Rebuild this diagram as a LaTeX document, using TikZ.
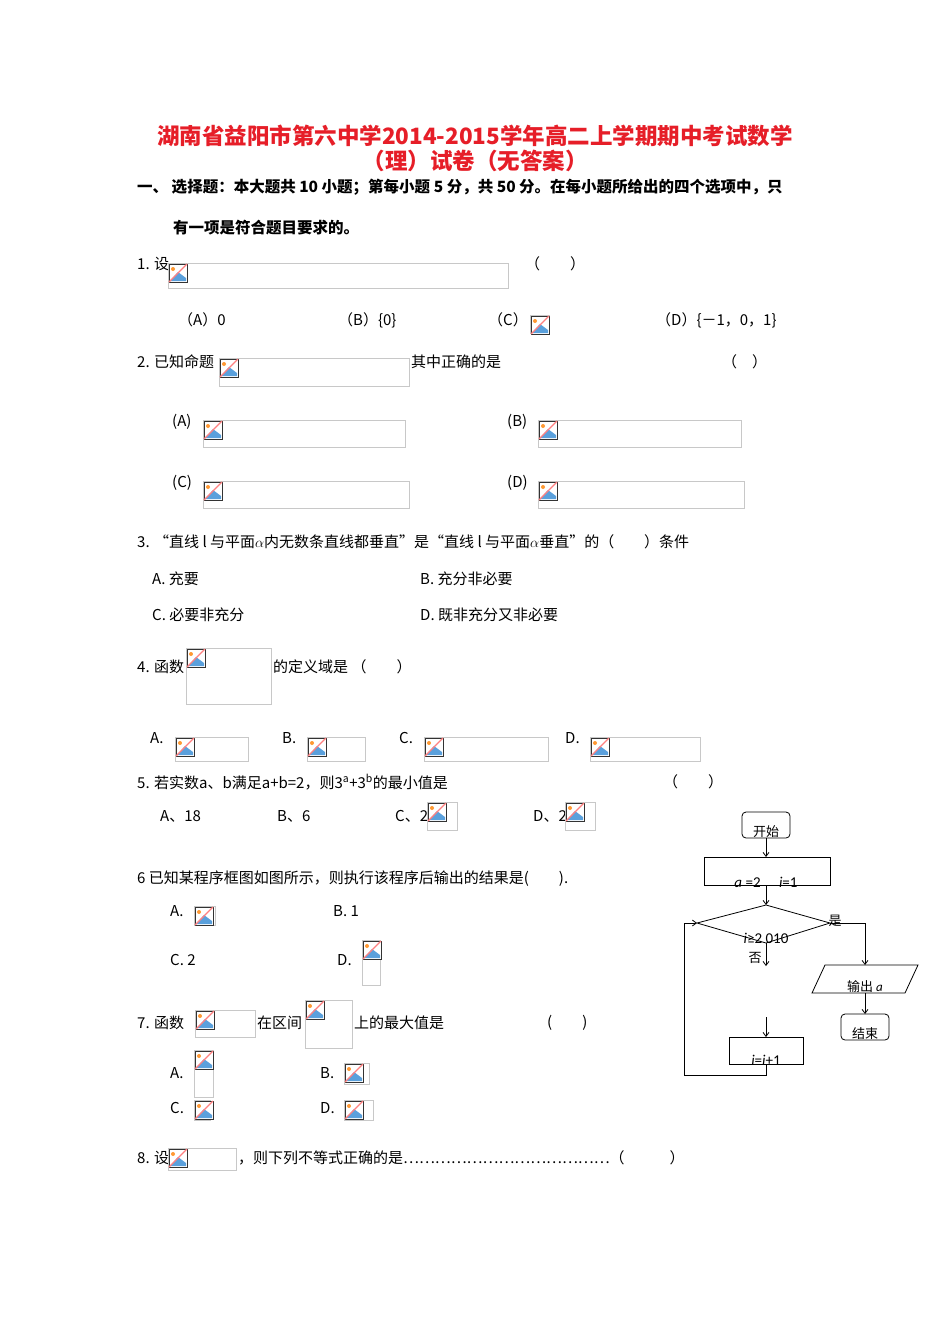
\documentclass[tikz,border=0pt]{standalone}
\usepackage{fontspec}
\setmainfont{Liberation Serif}
\newfontfamily\cjk{Noto Sans CJK SC}
\newfontfamily\fsans{Carlito}
\usetikzlibrary{arrows.meta,shapes.geometric}
\definecolor{ttl}{RGB}{230,30,40}
\definecolor{frm}{RGB}{200,200,200}
\definecolor{icb}{RGB}{90,160,220}
\newcommand\bimg[4]{% x1,y1,x2,y2
  \draw[frm,line width=0.8] (#1,#2) rectangle (#3,#4);
  \fill[white] (#1+1,#2+1) rectangle (#1+19,#2+19);
  \fill[icb] (#1+2,#2+18) -- (#1+10,#2+9) -- (#1+18,#2+15) -- (#1+18,#2+18) -- cycle;
  \fill[orange!80] (#1+5,#2+6) circle (2);
  \draw[black!80,line width=0.9] (#1+1,#2+1) rectangle (#1+19,#2+19);
  \draw[red!50,line width=1.2] (#1+1,#2+19) -- (#1+19,#2+1);
}
\tikzset{
  t/.style={anchor=west,inner sep=0,font=\cjk\fontsize{15}{15}\selectfont},
  hb/.style={anchor=west,inner sep=0,font=\cjk\bfseries\fontsize{15.5}{15.5}\selectfont},
  fc/.style={draw,line width=0.8},
  fl/.style={font=\fsans\fontsize{15}{15}\selectfont,inner sep=0},
  fz/.style={font=\cjk\fontsize{13}{13}\selectfont,inner sep=0},
  ar/.style={-{Straight Barb[length=4,width=6]},line width=0.8}
}
\begin{document}
\begin{tikzpicture}[x=1pt,y=-1pt]
\useasboundingbox (0,0) rectangle (950,1344);
\fill[white] (0,0) rectangle (950,1344);
\node[inner sep=0,text=ttl,font=\cjk\bfseries\fontsize{22.5}{22.5}\selectfont] (ti1) at (475,136) {湖南省益阳市第六中学2014-2015学年高二上学期期中考试数学};
\node[inner sep=0,text=ttl,font=\cjk\bfseries\fontsize{22.5}{22.5}\selectfont] (ti2) at (475,161) {（理）试卷（无答案）};
\node[hb] (h1) at (137,187) {一、 选择题：本大题共 10 小题；第每小题 5 分，共 50 分。在每小题所给出的四个选项中，只};
\node[hb] (h2) at (173,228) {有一项是符合题目要求的。};
% Q1
\node[t] (q1) at (137,264) {1. 设};
\bimg{168}{263}{508}{288}
\node[t] (q1p) at (525,264) {（\quad\quad ）};
\node[t] (q1a) at (178,320) {（A）0};
\node[t] (q1b) at (338,320) {（B）\{0\}};
\node[t] (q1c) at (488,320) {（C）};
\bimg{530}{315}{549}{333}
\node[t] (q1d) at (656,320) {（D）\{－1，0，1\}};
% Q2
\node[t] (q2) at (137,362) {2. 已知命题};
\bimg{219}{358}{409}{386}
\node[t] (q2b) at (411,362) {其中正确的是};
\node[t] (q2p) at (722,362) {（\quad ）};
\node[t] (q2A) at (172,422) {(A)};
\bimg{203}{420}{405}{447}
\node[t] (q2B) at (507,422) {(B)};
\bimg{538}{420}{741}{447}
\node[t] (q2C) at (172,483) {(C)};
\bimg{203}{481}{409}{508}
\node[t] (q2D) at (507,483) {(D)};
\bimg{538}{481}{744}{508}
% Q3
\node[t] (q3) at (137,542) {3. “直线 \textit{l} 与平面$\alpha$内无数条直线都垂直”是“直线 \textit{l} 与平面$\alpha$垂直”的（\quad\quad ）条件};
\node[t] (q3a) at (152,579) {A. 充要};
\node[t] (q3b) at (420,579) {B. 充分非必要};
\node[t] (q3c) at (152,615) {C. 必要非充分};
\node[t] (q3d) at (420,615) {D. 既非充分又非必要};
% Q4
\node[t] (q4) at (137,667) {4. 函数};
\bimg{186}{648}{271}{704}
\node[t] (q4b) at (273,667) {的定义域是 （\quad\quad ）};
\node[t] (q4A) at (150,738) {A.};
\bimg{175}{737}{248}{761}
\node[t] (q4B) at (282,738) {B.};
\bimg{307}{737}{365}{761}
\node[t] (q4C) at (399,738) {C.};
\bimg{424}{737}{548}{761}
\node[t] (q4D) at (565,738) {D.};
\bimg{590}{737}{700}{761}
% Q5
\node[t] (q5) at (137,782) {5. 若实数a、b满足a+b=2，则3\textsuperscript{a}+3\textsuperscript{b}的最小值是};
\node[t] (q5p) at (663,782) {（\quad\quad ）};
\node[t] (q5A) at (160,816) {A、18};
\node[t] (q5B) at (277,816) {B、6};
\node[t] (q5C) at (395,816) {C、2};
\bimg{427}{802}{457}{830}
\node[t] (q5D) at (533,816) {D、2};
\bimg{565}{802}{595}{830}
% Q6
\node[t] (q6) at (137,879) {6 已知某程序框图如图所示，则执行该程序后输出的结果是(\quad\quad ).};
\node[t] (q6A) at (170,911) {A.};
\bimg{194}{906}{215}{925}
\node[t] (q6B) at (333,911) {B. 1};
\node[t] (q6C) at (170,960) {C. 2};
\node[t] (q6D) at (337,960) {D.};
\bimg{362}{940}{380}{985}
% Q7
\node[t] (q7) at (137,1023) {7. 函数};
\bimg{195}{1010}{255}{1037}
\node[t] (q7b) at (257,1023) {在区间};
\bimg{305}{1000}{352}{1048}
\node[t] (q7c) at (354,1023) {上的最大值是};
\node[t] (q7p) at (547,1023) {(\quad\quad )};
\node[t] (q7A) at (170,1073) {A.};
\bimg{194}{1050}{213}{1097}
\node[t] (q7B) at (320,1073) {B.};
\bimg{344}{1063}{369}{1084}
\node[t] (q7C) at (170,1108) {C.};
\bimg{194}{1100}{210}{1120}
\node[t] (q7D) at (320,1108) {D.};
\bimg{344}{1100}{373}{1120}
% Q8
\node[t] (q8) at (137,1158) {8. 设};
\bimg{168}{1148}{236}{1170}
\node[t] (q8b) at (238,1158) {，则下列不等式正确的是…………………………………（\quad\quad\quad ）};
% flowchart
\draw[fc,rounded corners=4] (742,812) rectangle (790,838);
\node[fz] (st) at (766,832) {开始};
\draw[fc] (704,857) rectangle (830,885);
\node[fl] (ini) at (766,882) {\textit{a} =2\quad\ \textit{i}=1};
\draw[fc] (766,905) -- (830,923) -- (766,943) -- (697,923) -- cycle;
\node[fl] (cnd) at (766,938) {\textit{i}≥2 010};
\node[fz] (yes) at (835,921) {是};
\node[fz] (no) at (755,958) {否};
\draw[fc] (729,1037) rectangle (803,1064);
\node[fl] (inc) at (766,1060) {\textit{i}=\textit{i}+1};
\draw[fc] (825,965) -- (918,965) -- (905,993) -- (812,993) -- cycle;
\node[fz] (out) at (865,987) {输出 \fsans\textit{a}};
\draw[fc,rounded corners=4] (841,1014) rectangle (889,1040);
\node[fz] (en) at (865,1034) {结束};
\coordinate (a1) at (766,838); \coordinate (a2) at (766,857);
\coordinate (b1) at (766,885); \coordinate (b2) at (766,905);
\coordinate (c1) at (766,943); \coordinate (c2) at (766,966);
\coordinate (d1) at (766,1017); \coordinate (d2) at (766,1037);
\coordinate (e1) at (766,1064); \coordinate (e2) at (697,923);
\coordinate (f1) at (830,923); \coordinate (f2) at (865,965);
\coordinate (g1) at (865,993); \coordinate (g2) at (865,1014);
\draw[ar] (a1) -- (a2);
\draw[ar] (b1) -- (b2);
\draw[ar] (c1) -- (c2);
\draw[ar] (d1) -- (d2);
\draw[ar] (e1) -- (766,1075) -- (684,1075) -- (684,923) -- (e2);
\draw[ar] (f1) -- (865,923) -- (f2);
\draw[ar] (g1) -- (g2);
\end{tikzpicture}
\end{document}
